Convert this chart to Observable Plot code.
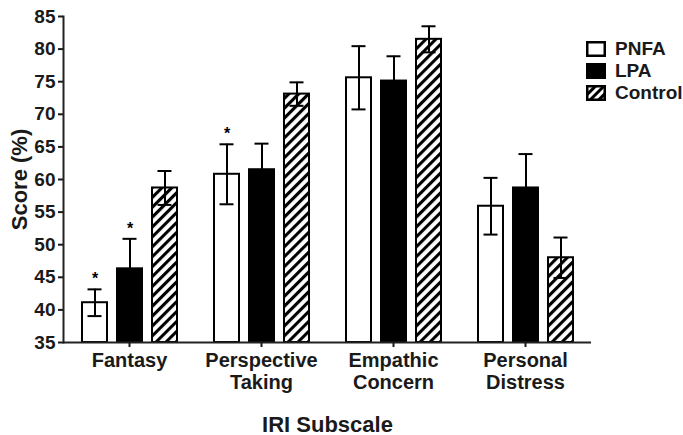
<!DOCTYPE html>
<html><head><meta charset="utf-8">
<script src="https://cdn.jsdelivr.net/npm/d3@7"></script>
<script src="https://cdn.jsdelivr.net/npm/@observablehq/plot@0.6"></script>
<style>
body{margin:0;background:#fff;}
#wrap{position:relative;width:683px;height:435px;font-family:"Liberation Sans",Arial,sans-serif;color:#1a1a1a;}
#legend{position:absolute;left:586px;top:38px;font-weight:bold;font-size:19px;white-space:nowrap;}
.item{display:flex;align-items:center;height:22px;}
.item svg{margin-right:9px;display:block;}
</style></head><body><div id="wrap"><div id="legend"></div></div>
<script>
const subscales = ["Fantasy", "Perspective Taking", "Empathic Concern", "Personal Distress"];
const subscaleLabels = ["Fantasy", "Perspective\nTaking", "Empathic\nConcern", "Personal\nDistress"];
const groups = ["PNFA", "LPA", "Control"];
const pnfaMean = [41.1, 60.8, 75.6, 55.9];
const pnfaErr = [2.05, 4.6, 4.85, 4.35];
const lpaMean = [46.3, 61.5, 75.1, 58.7];
const lpaErr = [4.6, 4.0, 3.8, 5.2];
const controlMean = [58.7, 73.1, 81.5, 48.0];
const controlErr = [2.6, 1.8, 2.0, 3.1];
const pnfaSig = [true, true, false, false];
const lpaSig = [true, false, false, false];
const controlSig = [false, false, false, false];
const yTicks = [35, 40, 45, 50, 55, 60, 65, 70, 75, 80, 85];
const groupFills = ["white", "black", "url(#hatch)"];

const means = [pnfaMean, lpaMean, controlMean];
const errs = [pnfaErr, lpaErr, controlErr];
const sigs = [pnfaSig, lpaSig, controlSig];
const rows = [];
subscales.forEach((s, i) => groups.forEach((g, j) => rows.push({
  sub: s, group: g, mean: means[j][i], lo: means[j][i] - errs[j][i], hi: means[j][i] + errs[j][i], sig: sigs[j][i]
})));
const labelOf = Object.fromEntries(subscales.map((s, i) => [s, subscaleLabels[i]]));
const yMin = yTicks[0];

const chart = Plot.plot({
  width: 683, height: 435,
  marginTop: 16, marginBottom: 93, marginLeft: 62, marginRight: 91,
  style: {fontFamily: "'Liberation Sans', Arial, sans-serif", fontWeight: "bold", color: "#1a1a1a", background: "transparent"},
  fx: {domain: subscales, padding: 0},
  x: {domain: groups, paddingInner: 0.3, paddingOuter: 0.49, axis: null},
  y: {domain: [yMin, yTicks[yTicks.length - 1]]},
  color: {domain: groups, range: groupFills},
  marks: [
    Plot.barY(rows, {fx: "sub", x: "group", y1: yMin, y2: "mean", fill: "group", stroke: "black", strokeWidth: 2}),
    Plot.ruleX(rows, {fx: "sub", x: "group", y1: "lo", y2: "hi", stroke: "black", strokeWidth: 2}),
    Plot.tickY(rows, {fx: "sub", x: "group", y: "hi", stroke: "black", strokeWidth: 2, insetLeft: 5.5, insetRight: 5.5}),
    Plot.tickY(rows, {fx: "sub", x: "group", y: "lo", stroke: "black", strokeWidth: 2, insetLeft: 5.5, insetRight: 5.5}),
    Plot.text(rows.filter(d => d.sig), {fx: "sub", x: "group", y: "hi", text: () => "*", dy: -10, fontSize: 16, fill: "black"}),
    Plot.ruleY([yMin], {stroke: "#222", strokeWidth: 2}),
    Plot.frame({anchor: "left", facetAnchor: "left", stroke: "#222", strokeWidth: 2}),
    Plot.axisY({ticks: yTicks, tickSize: 5, tickPadding: 3, strokeWidth: 2, fontSize: 19, label: null}),
    Plot.axisY({ticks: [], label: "Score (%)", labelAnchor: "center", labelArrow: "none", labelOffset: 52, fontSize: 22}),
    Plot.axisFx({anchor: "bottom", tickSize: 5, tickPadding: 4, strokeWidth: 2, fontSize: 20, lineHeight: 1.1, tickFormat: d => labelOf[d], label: null}),
    Plot.axisFx({anchor: "bottom", ticks: [], label: "IRI Subscale", labelAnchor: "center", labelArrow: "none", labelOffset: 89, fontSize: 22})
  ]
});

const defs = `<defs><pattern id="hatch" patternUnits="userSpaceOnUse" width="7" height="7" patternTransform="rotate(45)"><rect width="7" height="7" fill="white"/><line x1="1.5" y1="0" x2="1.5" y2="7" stroke="black" stroke-width="3.2"/></pattern></defs>`;
chart.insertAdjacentHTML("afterbegin", defs);
document.getElementById("wrap").prepend(chart);

const legend = document.getElementById("legend");
groups.forEach((g, j) => {
  const item = document.createElement("div");
  item.className = "item";
  item.innerHTML = `<svg width="20" height="16"><defs><pattern id="hatchL${j}" patternUnits="userSpaceOnUse" width="6" height="6" patternTransform="rotate(45)"><rect width="6" height="6" fill="white"/><line x1="1.5" y1="0" x2="1.5" y2="6" stroke="black" stroke-width="3"/></pattern></defs><rect x="1.25" y="1.25" width="17.5" height="13.5" fill="${j === 2 ? `url(#hatchL${j})` : groupFills[j]}" stroke="black" stroke-width="2.5"/></svg><span>${g}</span>`;
  legend.appendChild(item);
});
</script></body></html>
